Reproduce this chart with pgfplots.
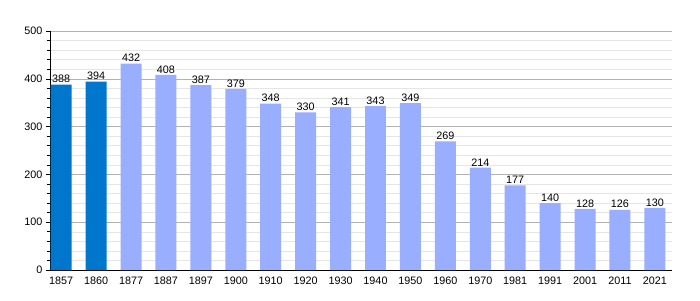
\documentclass[border=0pt]{standalone}
\usepackage{pgfplots}
\pgfplotsset{compat=1.18}
\usepackage{fontspec}
\setmainfont{Liberation Sans}
\definecolor{darkb}{HTML}{0077CC}
\definecolor{lightb}{HTML}{99AEFF}
\begin{document}
\begin{tikzpicture}[x=1pt,y=1pt]
\path (0,0) rectangle (700,300);
\begin{axis}[
  at={(50pt,30pt)}, anchor=south west,
  scale only axis, width=622pt, height=239pt,
  xmin=-0.32, xmax=17.49, ymin=0, ymax=500,
  axis x line*=bottom, axis y line*=left,
  axis line style={line width=1pt, -},
  xtick={0,...,17},
  xticklabels={1857,1860,1877,1887,1897,1900,1910,1920,1930,1940,1950,1960,1970,1981,1991,2001,2011,2021},
  ytick={0,100,...,500},
  minor y tick num=4,
  tick align=outside,
  major tick length=4pt, minor tick length=3pt,
  x tick style={draw=none},
  y tick style={black, line width=0.6pt},
  ymajorgrids, yminorgrids,
  major grid style={gray!60, line width=0.6pt},
  minor grid style={gray!20, line width=0.5pt},
  tick label style={font=\fontsize{10.8}{12}\selectfont},
  /pgf/number format/assume math mode=true,
  ybar, bar width=0.6, bar shift=0pt,
  nodes near coords,
  every node near coord/.append style={font=\fontsize{10.8}{12}\selectfont, black, inner sep=1.5pt},
  xticklabel style={yshift=1pt},
  clip=false,
]
\addplot[fill=darkb, draw=none] coordinates {(0,388) (1,394)};
\addplot[fill=lightb, draw=none] coordinates {(2,432) (3,408) (4,387) (5,379) (6,348) (7,330) (8,341) (9,343) (10,349) (11,269) (12,214) (13,177) (14,140) (15,128) (16,126) (17,130)};
\end{axis}
\end{tikzpicture}
\end{document}
